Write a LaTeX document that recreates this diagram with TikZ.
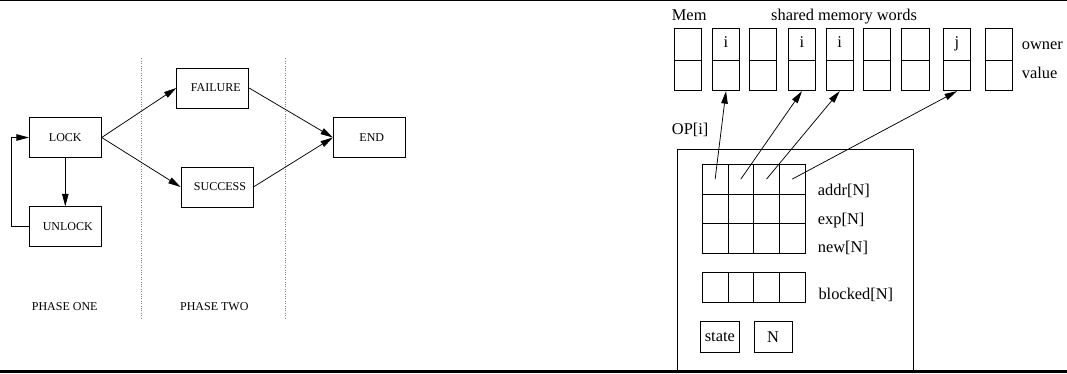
\documentclass[tikz,border=0pt]{standalone}
\usepackage{fontspec}
\setmainfont{Liberation Serif}
\usetikzlibrary{arrows.meta}
\tikzset{
 flowbox/.style={draw, line width=0.8pt, inner sep=0pt, minimum width=72pt, minimum height=40pt, font=\fontsize{12}{14}\selectfont},
 arr/.style={-{Triangle[length=12.5pt,width=6.5pt]}, line width=0.75pt},
 phaseline/.style={line width=0.8pt, gray, dash pattern=on 0.8pt off 1.6pt},
 lbl/.style={font=\fontsize{12}{14}\selectfont, inner sep=0pt},
 rtxt/.style={font=\fontsize{16.4}{19}\selectfont, inner sep=0pt, anchor=base west},
 ocell/.style={draw, line width=0.8pt, inner sep=0pt, minimum width=27.3pt, minimum height=31.7pt, text height=11pt, text depth=3.5pt, font=\fontsize{16.4}{19}\selectfont},
 vcell/.style={draw, line width=0.8pt, inner sep=0pt, minimum width=27.3pt, minimum height=30.7pt},
 gcell/.style={draw, line width=0.9pt, inner sep=0pt, minimum width=25.67pt, minimum height=29.7pt},
 sbox/.style={draw, line width=0.8pt, inner sep=0pt, minimum width=38.3pt, minimum height=30.3pt, font=\fontsize{16.4}{19}\selectfont},
 bigbox/.style={draw, line width=0.8pt, inner sep=0pt, minimum width=236pt, minimum height=221.7pt},
}
\begin{document}
\begin{tikzpicture}[x=1pt,y=-1pt]
\useasboundingbox (0,0) rectangle (1067,373);
% frame lines
\draw[line width=1.3pt] (0,0.65) -- (1067,0.65);
\draw[line width=2.7pt] (0,371.65) -- (1067,371.65);

% ---------- left: phases ----------
\coordinate (d1a) at (141.3,58.3);
\coordinate (d1b) at (141.3,318.3);
\coordinate (d2a) at (285.3,58.3);
\coordinate (d2b) at (285.3,318.3);
\draw[phaseline] (d1a) -- (d1b);
\draw[phaseline] (d2a) -- (d2b);

\node[flowbox] (lock) at (65.3,137.5) {LOCK};
\node[flowbox] (unlock) at (65.3,226.7) {\hspace*{5pt}UNLOCK};
\node[flowbox] (fail) at (212.7,88) {\hspace*{6pt}FAILURE};
\node[flowbox] (succ) at (217,187) {\hspace*{6pt}SUCCESS};
\node[flowbox] (end) at (369.3,137.5) {\hspace*{5pt}END};

\draw[arr] (lock.east) -- (fail.west);
\draw[arr] (lock.east) -- (succ.west);
\draw[arr] (fail.east) -- (end.west);
\draw[arr] (succ.east) -- (end.west);
\draw[arr] (lock.south) -- (unlock.north);
\draw[arr] (unlock.west) -- ++(-17.6,0) |- (lock.west);

\node[lbl] (p1) at (64.7,306.7) {PHASE ONE};
\node[lbl] (p2) at (214.3,306.7) {PHASE TWO};

% ---------- right: memory ----------
\node[rtxt] (mem) at (671.7,20) {Mem};
\node[rtxt] (smw) at (771,20) {shared memory words};
\foreach \cx/\t [count=\k] in {688/{},726/i,763/{},802/i,839.7/i,877/{},915.3/{},957/j,998.7/{}} {
  \node[ocell] (m\k o) at (\cx,44.15) {\t};
  \node[vcell] (m\k v) at (\cx,75.35) {};
}
\node[rtxt] (own) at (1021.7,49.3) {owner};
\node[rtxt] (val) at (1021.7,78.3) {value};

\node[rtxt] (opi) at (671.7,134) {OP[i]};
\node[bigbox] (op) at (795.3,260.15) {};

\foreach \r/\cy in {1/179.15,2/208.85,3/238.55} {
  \foreach \c in {1,...,4} {
    \node[gcell] (g\r\c) at ({702.3+25.67*(\c-0.5)},\cy) {};
  }
}
\foreach \c in {1,...,4} {
  \node[gcell] (b\c) at ({702.3+25.67*(\c-0.5)},287.5) {};
}
\node[rtxt] (addr) at (817.7,195) {addr[N]};
\node[rtxt] (expn) at (817.7,224) {exp[N]};
\node[rtxt] (newn) at (817.7,252.3) {new[N]};
\node[rtxt] (blk) at (818.3,299) {blocked[N]};

\node[sbox] (st) at (719.85,336.85) {state};
\node[sbox] (nn) at (773.15,336.85) {N};

\draw[arr] (g11.center) -- (m2v.south);
\draw[arr] (g12.center) -- (m4v.south);
\draw[arr] (g13.center) -- (m5v.south);
\draw[arr] (g14.center) -- (m8v.south);
\end{tikzpicture}
\end{document}
